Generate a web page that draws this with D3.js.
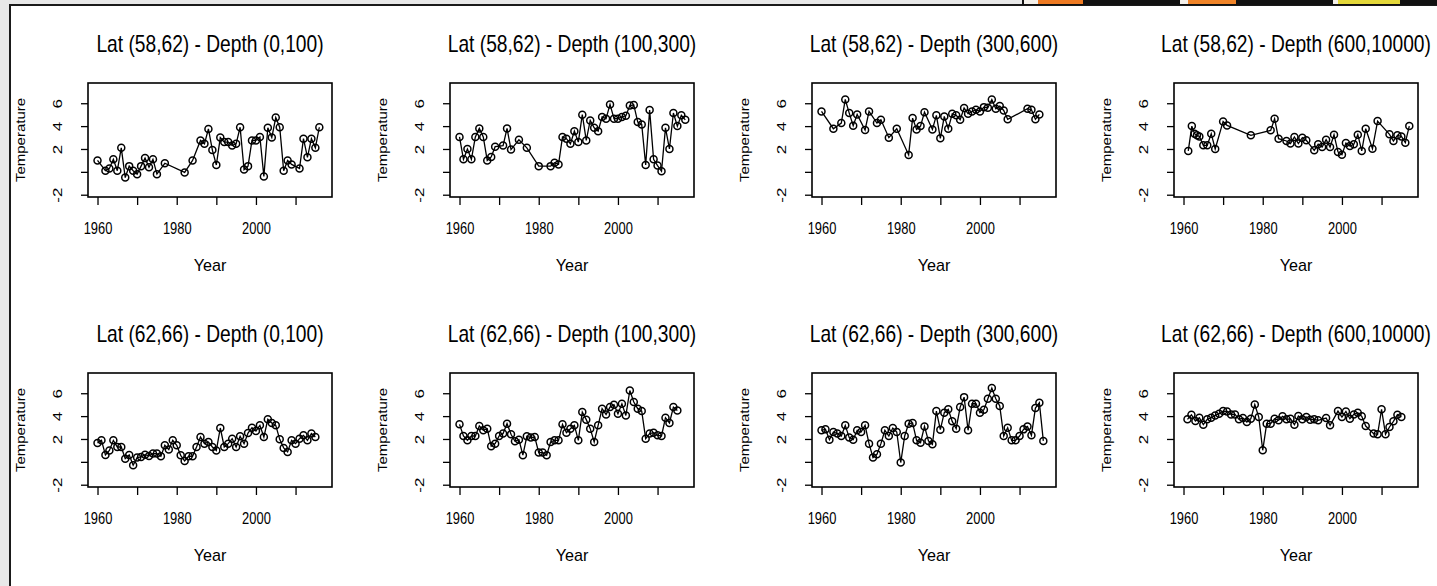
<!DOCTYPE html>
<html>
<head>
<meta charset="utf-8">
<script src="https://cdn.jsdelivr.net/npm/d3@7"></script>
<style>
body { margin: 0; background: #e8e8e8; }
svg { display: block; font-family: "Liberation Sans", Arial, sans-serif; }
</style>
</head>
<body>
<svg id="chart" width="1437" height="586"></svg>
<script>
// panel titles, row by row
const titles = [
  "Lat (58,62) - Depth (0,100)", "Lat (58,62) - Depth (100,300)",
  "Lat (58,62) - Depth (300,600)", "Lat (58,62) - Depth (600,10000)",
  "Lat (62,66) - Depth (0,100)", "Lat (62,66) - Depth (100,300)",
  "Lat (62,66) - Depth (300,600)", "Lat (62,66) - Depth (600,10000)"
];

const xTicks = [1960, 1970, 1980, 1990, 2000, 2010];
const xTickLabels = [1960, 1980, 2000];
const yTicks = [-2, 0, 2, 4, 6];
const yTickLabels = [-2, 2, 4, 6];

// Lat 58-62
const year1 = [1960,1962,1963,1964,1965,1966,1967,1968,1969,1970,1971,1972,1973,1974,1975,1977,1982,1984,1986,1987,1988,1989,1990,1991,1992,1993,1994,1995,1996,1997,1998,1999,2000,2001,2002,2003,2004,2005,2006,2007,2008,2009,2011,2012,2013,2014,2015,2016];
const temp1 = [1.0,0.1,0.3,1.1,0.1,2.1,-0.5,0.5,0.1,-0.2,0.5,1.2,0.4,1.1,-0.2,0.75,-0.05,1.0,2.75,2.45,3.75,1.9,0.6,3.0,2.6,2.6,2.3,2.45,3.9,0.2,0.5,2.75,2.75,3.05,-0.4,3.85,3.0,4.75,3.9,0.1,1.0,0.65,0.3,2.9,1.27,2.9,2.1,3.9];

const year2 = [1960,1961,1962,1963,1964,1965,1966,1967,1968,1969,1971,1972,1973,1975,1977,1980,1983,1984,1985,1986,1987,1988,1989,1990,1991,1992,1993,1994,1995,1996,1997,1998,1999,2000,2001,2002,2003,2004,2005,2006,2007,2008,2009,2010,2011,2012,2013,2014,2015,2016,2017];
const temp2 = [3.05,1.1,2.0,1.1,3.05,3.8,3.05,1.0,1.3,2.2,2.3,3.8,1.95,2.8,2.1,0.5,0.5,0.8,0.65,3.05,2.9,2.45,3.56,2.6,5.0,2.75,4.5,3.85,3.56,4.8,4.65,5.9,4.65,4.65,4.8,4.9,5.8,5.85,4.35,4.15,0.6,5.4,1.1,0.55,0.05,3.85,2.0,5.15,4.0,4.95,4.55];

const year3 = [1960,1963,1965,1966,1967,1968,1969,1971,1972,1974,1975,1977,1979,1982,1983,1984,1985,1986,1988,1989,1990,1991,1992,1993,1994,1995,1996,1997,1998,1999,2000,2001,2002,2003,2004,2005,2006,2007,2012,2013,2014,2015];
const temp3 = [5.28,3.77,4.27,6.33,5.14,4.03,5.02,3.66,5.28,4.27,4.56,2.99,3.77,1.48,4.7,3.71,4.0,5.22,3.71,4.94,2.93,4.85,3.77,5.08,4.94,4.56,5.58,5.08,5.28,5.43,5.28,5.66,5.6,6.33,5.52,5.75,5.37,4.59,5.52,5.43,4.59,5.02];

const year4 = [1961.2,1962.1,1962.8,1963.4,1964,1965,1966,1967,1968,1970,1971,1977,1982,1983,1984,1986,1987,1988,1989,1990,1991,1993,1994,1995,1996,1997,1998,1999,2000,2001,2002,2003,2004,2005,2006,2007.7,2009,2012,2013,2014,2015,2016,2017];
const temp4 = [1.83,4.0,3.34,3.19,3.1,2.32,2.32,3.34,2.0,4.41,4.06,3.19,3.63,4.65,2.9,2.7,2.47,3.05,2.47,2.99,2.76,1.88,2.41,2.17,2.81,2.17,3.25,1.74,1.5,2.52,2.26,2.41,3.25,1.83,3.77,2.03,4.44,3.28,2.7,3.19,3.1,2.55,4.0];

// Lat 62-66
const year5 = [1960,1961,1962,1963,1964,1965,1966,1967,1968,1969,1970,1971,1972,1973,1974,1975,1976,1977,1978,1979,1980,1981,1982,1983,1984,1985,1986,1987,1988,1989,1990,1991,1992,1993,1994,1995,1996,1997,1998,1999,2000,2001,2002,2003,2004,2005,2006,2007,2008,2009,2010,2011,2012,2013,2014,2015];
const temp5 = [1.65,1.88,0.6,1.0,1.88,1.3,1.3,0.28,0.6,-0.3,0.37,0.43,0.63,0.52,0.72,0.72,0.49,1.45,1.07,1.88,1.45,0.57,0.08,0.49,0.49,1.3,2.17,1.59,1.74,1.3,1.0,2.96,1.3,1.59,2.03,1.3,2.23,1.59,2.52,2.99,2.7,3.19,2.17,3.72,3.4,3.19,1.97,1.22,0.87,1.88,1.59,2.03,2.32,1.88,2.47,2.17];

const year6 = [1960,1961,1962,1963,1964,1965,1966,1967,1968,1969,1970,1971,1972,1973,1974,1975,1976,1977,1978,1979,1980,1981,1982,1983,1984,1985,1986,1987,1988,1989,1990,1991,1992,1993,1994,1995,1996,1997,1998,1999,2000,2001,2002,2003,2004,2005,2006,2007,2008,2009,2010,2011,2012,2013,2014,2015];
const temp6 = [3.28,2.26,1.88,2.26,2.26,3.13,2.76,2.9,1.36,1.59,2.26,2.47,3.34,2.41,1.8,1.94,0.58,2.23,2.12,2.17,0.81,0.81,0.58,1.74,1.88,1.88,3.28,2.55,2.9,3.19,1.88,4.35,3.69,2.9,1.74,3.19,4.65,4.15,4.79,5.0,4.21,5.08,4.06,6.24,5.23,4.65,4.44,2.03,2.47,2.55,2.32,2.26,3.86,3.4,4.79,4.5];

const year7 = [1960,1961,1962,1963,1964,1965,1966,1967,1968,1969,1970,1971,1972,1973,1974,1975,1976,1977,1978,1979,1980,1981,1982,1983,1984,1985,1986,1987,1988,1989,1990,1991,1992,1993,1994,1995,1996,1997,1998,1999,2000,2001,2002,2003,2004,2005,2006,2007,2008,2009,2010,2011,2012,2013,2014,2015,2016];
const temp7 = [2.76,2.84,1.94,2.61,2.47,2.26,3.19,2.12,1.94,2.76,2.61,3.19,1.59,0.37,0.66,1.59,2.76,2.26,2.96,2.61,-0.06,2.26,3.34,3.4,1.88,1.68,3.1,1.83,1.53,4.44,2.81,4.3,4.59,3.54,2.9,4.79,5.66,2.76,5.08,5.08,4.3,4.56,5.52,6.45,5.52,4.88,2.26,2.99,1.88,1.88,2.26,2.84,3.1,2.32,4.7,5.17,1.83];

const year8 = [1961,1962,1963,1964,1965,1966,1967,1968,1969,1970,1971,1972,1973,1974,1975,1976,1977,1978,1979,1980,1981,1982,1983,1984,1985,1986,1987,1988,1989,1990,1991,1992,1993,1994,1996,1997,1999,2000,2001,2002,2003,2004,2005,2006,2008,2009,2010,2011,2012,2013,2014,2015];
const temp8 = [3.72,4.12,3.57,3.86,3.25,3.72,3.86,4.06,4.21,4.44,4.41,4.15,4.15,3.72,3.83,3.48,3.77,5.02,3.92,1.01,3.34,3.34,3.77,3.63,3.98,3.72,3.77,3.25,4.0,3.72,3.92,3.69,3.72,3.63,3.83,3.19,4.44,3.92,4.41,3.77,4.15,4.3,3.98,3.13,2.47,2.41,4.59,2.41,3.05,3.54,4.12,3.92];

const years = [year1, year2, year3, year4, year5, year6, year7, year8];
const temps = [temp1, temp2, temp3, temp4, temp5, temp6, temp7, temp8];

const svg = d3.select("#chart");

// page frame
svg.append("rect").attr("x", 10).attr("y", 5).attr("width", 1427).attr("height", 581).attr("fill", "#fff");
svg.append("line").attr("x1", 10).attr("x2", 10).attr("y1", 4).attr("y2", 586).attr("stroke", "#1a1a1a").attr("stroke-width", 2);
svg.append("line").attr("x1", 9).attr("x2", 1437).attr("y1", 5).attr("y2", 5).attr("stroke", "#1a1a1a").attr("stroke-width", 2);

// thumbnails strip at top right
svg.append("rect").attr("x", 1022).attr("y", 0).attr("width", 415).attr("height", 5).attr("fill", "#111");
svg.append("rect").attr("x", 1024).attr("y", 0).attr("width", 14).attr("height", 4).attr("fill", "#f4f0ea");
svg.append("rect").attr("x", 1038).attr("y", 0).attr("width", 45).attr("height", 4).attr("fill", "#ee7a22");
svg.append("rect").attr("x", 1180).attr("y", 0).attr("width", 8).attr("height", 4).attr("fill", "#f4f0ea");
svg.append("rect").attr("x", 1188).attr("y", 0).attr("width", 48).attr("height", 4).attr("fill", "#f08428");
svg.append("rect").attr("x", 1333).attr("y", 0).attr("width", 5).attr("height", 4).attr("fill", "#f4f0ea");
svg.append("rect").attr("x", 1338).attr("y", 0).attr("width", 62).attr("height", 4).attr("fill", "#e4d83a");

const boxW = 244, boxH = 114;

const x = d3.scaleLinear().domain([1957.6, 2019.2]).range([0, boxW]);
const y = d3.scaleLinear().domain([-2.2, 7.77]).range([boxH, 0]);

const line = d3.line()
  .x(d => x(d[0]))
  .y(d => y(d[1]));

titles.forEach(function(title, i) {
  const col = i % 4, row = Math.floor(i / 4);
  const g = svg.append("g")
    .attr("transform", "translate(" + (88 + col * 362) + "," + (83 + row * 290) + ")");

  // x axis
  const gx = g.append("g")
    .attr("transform", "translate(0," + boxH + ")")
    .call(d3.axisBottom(x)
      .tickValues(xTicks)
      .tickSize(8)
      .tickFormat(d => xTickLabels.includes(d) ? d : ""));
  gx.select(".domain").remove();
  gx.selectAll("line").attr("stroke", "#000").attr("stroke-width", 1.3);
  gx.selectAll("text")
    .attr("y", 37).attr("dy", null)
    .attr("fill", "#000")
    .attr("font-size", 17)
    .attr("font-family", "Liberation Sans, Arial, sans-serif")
    .attr("transform", "scale(0.76,1)");

  // y axis
  const gy = g.append("g")
    .call(d3.axisLeft(y)
      .tickValues(yTicks)
      .tickSize(7)
      .tickFormat(d => yTickLabels.includes(d) ? d : ""));
  gy.select(".domain").remove();
  gy.selectAll("line").attr("stroke", "#000").attr("stroke-width", 1.3);
  gy.selectAll("text")
    .attr("x", null).attr("dy", null)
    .attr("text-anchor", "middle")
    .attr("fill", "#000")
    .attr("font-size", 17)
    .attr("font-family", "Liberation Sans, Arial, sans-serif")
    .attr("transform", "translate(-26,0) rotate(-90) scale(1,0.76)");

  // plot box
  g.append("rect")
    .attr("width", boxW).attr("height", boxH)
    .attr("fill", "none").attr("stroke", "#000").attr("stroke-width", 1.6);

  const pts = years[i].map((yr, k) => [yr, temps[i][k]]);

  g.append("path")
    .datum(pts)
    .attr("d", line)
    .attr("fill", "none")
    .attr("stroke", "#000")
    .attr("stroke-width", 1.3);

  g.selectAll("circle")
    .data(pts)
    .join("circle")
      .attr("cx", d => x(d[0]))
      .attr("cy", d => y(d[1]))
      .attr("r", 3.5)
      .attr("fill", "none")
      .attr("stroke", "#000")
      .attr("stroke-width", 1.5);

  // labels
  g.append("text")
    .attr("transform", "translate(" + boxW / 2 + ",-31) scale(0.8,1)")
    .attr("text-anchor", "middle")
    .attr("font-size", 24)
    .text(title);

  g.append("text")
    .attr("transform", "translate(" + boxW / 2 + "," + (boxH + 74) + ") scale(0.95,1)")
    .attr("text-anchor", "middle")
    .attr("font-size", 17)
    .text("Year");

  g.append("text")
    .attr("transform", "translate(-63," + boxH / 2 + ") rotate(-90) scale(1,0.8)")
    .attr("text-anchor", "middle")
    .attr("font-size", 15)
    .text("Temperature");
});
</script>
</body>
</html>
